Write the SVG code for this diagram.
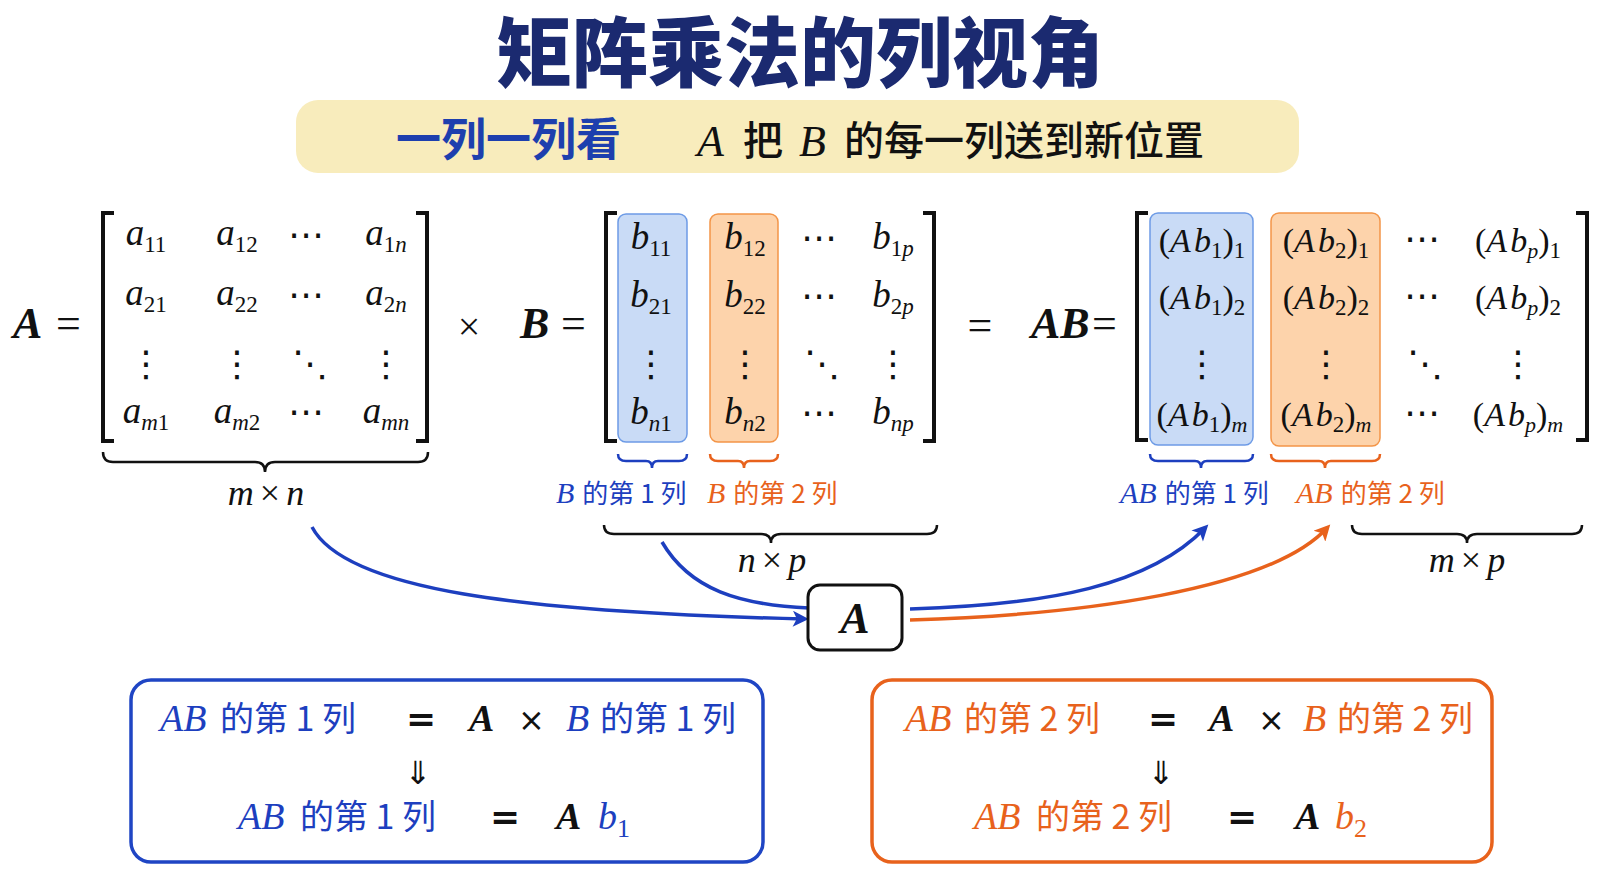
<svg xmlns="http://www.w3.org/2000/svg" width="1600" height="878" viewBox="0 0 1600 878">
<style>
.m{font-family:"Liberation Serif","DejaVu Serif",serif;font-style:italic;fill:#111}
.up{font-style:normal}
.it{font-style:italic}
.cjk{font-family:"Noto Sans CJK SC","Noto Sans",sans-serif}
.sym{font-family:"DejaVu Sans",sans-serif;fill:#111}
.e{font-size:37px}
.e2{font-size:34px}
.sub{font-size:23px;font-style:normal}
.dots{font-family:"DejaVu Sans",sans-serif;font-size:36px;fill:#111;text-anchor:middle}
.brk{fill:none;stroke:#111;stroke-width:4}
.brace{fill:none;stroke:#111;stroke-width:2.5}
.bb{fill:none;stroke:#1d3fbf;stroke-width:2.5}
.ob{fill:none;stroke:#e8621c;stroke-width:2.5}
.blue{fill:#1d3fbf}
.orange{fill:#e8621c}
.hb{fill:#c9dbf6;stroke:#6d9be6;stroke-width:1.5}
.ho{fill:#fdd3ab;stroke:#f39548;stroke-width:1.5}
.lbl{font-size:26px}
.lm{font-size:30px}
.big{font-size:44px;font-weight:bold}
.bx{font-size:38px}
.bc{font-size:34px}
.arr{fill:none;stroke-width:3.5}
</style>
<defs>
<marker id="ahB" viewBox="0 0 10 10" refX="7" refY="5" markerWidth="20" markerHeight="16" markerUnits="userSpaceOnUse" orient="auto"><path d="M0,0 L10,5 L0,10 L2.5,5 z" fill="#1d3fbf"/></marker>
<marker id="ahO" viewBox="0 0 10 10" refX="7" refY="5" markerWidth="20" markerHeight="16" markerUnits="userSpaceOnUse" orient="auto"><path d="M0,0 L10,5 L0,10 L2.5,5 z" fill="#e8621c"/></marker>
</defs>
<rect width="1600" height="878" fill="#ffffff"/>

<g id="title">
<text x="800" y="81" text-anchor="middle" class="cjk" font-size="76" font-weight="900" fill="#1b2a70">矩阵乘法的列视角</text>
</g>

<g id="banner">
<rect x="296" y="100" width="1003" height="73" rx="22" fill="#f8ecbc"/>
<text x="396" y="156" class="cjk" font-size="45" font-weight="bold" fill="#1d3fae">一列一列看</text>
<text x="697" y="156" class="m" font-size="44">A</text>
<text x="743" y="155" class="cjk" font-size="40" font-weight="500" fill="#111">把</text>
<text x="799" y="156" class="m" font-size="44">B</text>
<text x="844" y="155" class="cjk" font-size="40" font-weight="500" fill="#111">的每一列送到新位置</text>
</g>

<g id="matrix-A">
<text x="13" y="338" class="m big">A</text>
<text x="56" y="338" class="m up" font-size="44">=</text>
<path class="brk" d="M114,213 H103 V441 H114"/>
<path class="brk" d="M416,213 H427 V441 H416"/>
<text class="m e" x="146" y="245" text-anchor="middle">a<tspan class="sub" dy="7">11</tspan></text>
<text class="m e" x="237" y="245" text-anchor="middle">a<tspan class="sub" dy="7">12</tspan></text>
<text class="dots" x="306" y="247">⋯</text>
<text class="m e" x="386" y="245" text-anchor="middle">a<tspan class="sub" dy="7">1<tspan class="it">n</tspan></tspan></text>
<text class="m e" x="146" y="305" text-anchor="middle">a<tspan class="sub" dy="7">21</tspan></text>
<text class="m e" x="237" y="305" text-anchor="middle">a<tspan class="sub" dy="7">22</tspan></text>
<text class="dots" x="306" y="307">⋯</text>
<text class="m e" x="386" y="305" text-anchor="middle">a<tspan class="sub" dy="7">2<tspan class="it">n</tspan></tspan></text>
<text class="dots" x="146" y="376">⋮</text>
<text class="dots" x="237" y="376">⋮</text>
<text class="dots" x="310" y="376">⋱</text>
<text class="dots" x="386" y="376">⋮</text>
<text class="m e" x="146" y="423" text-anchor="middle">a<tspan class="sub" dy="7"><tspan class="it">m</tspan>1</tspan></text>
<text class="m e" x="237" y="423" text-anchor="middle">a<tspan class="sub" dy="7"><tspan class="it">m</tspan>2</tspan></text>
<text class="dots" x="306" y="424">⋯</text>
<text class="m e" x="386" y="423" text-anchor="middle">a<tspan class="sub it" dy="7" style="font-style:italic">mn</tspan></text>
<path class="brace" d="M103,452 Q103,462 113,462 L255,462 Q265,462 265,472 Q265,462 275,462 L418,462 Q428,462 428,452"/>
<text class="m" x="266" y="505" text-anchor="middle" font-size="36">m<tspan class="up" dx="6">×</tspan><tspan dx="6">n</tspan></text>
</g>

<g id="times">
<text x="469" y="340" text-anchor="middle" class="m up" font-size="40">×</text>
</g>

<g id="matrix-B">
<text x="520" y="338" class="m big">B</text>
<text x="561" y="338" class="m up" font-size="44">=</text>
<path class="brk" d="M617,213 H606 V441 H617"/>
<path class="brk" d="M923,213 H934 V441 H923"/>
<rect class="hb" x="618" y="214" width="69" height="228" rx="8"/>
<rect class="ho" x="710" y="214" width="68" height="228" rx="8"/>
<text class="m e" x="651" y="249" text-anchor="middle">b<tspan class="sub" dy="7">11</tspan></text>
<text class="m e" x="745" y="249" text-anchor="middle">b<tspan class="sub" dy="7">12</tspan></text>
<text class="dots" x="819" y="250">⋯</text>
<text class="m e" x="893" y="249" text-anchor="middle">b<tspan class="sub" dy="7">1<tspan class="it">p</tspan></tspan></text>
<text class="m e" x="651" y="307" text-anchor="middle">b<tspan class="sub" dy="7">21</tspan></text>
<text class="m e" x="745" y="307" text-anchor="middle">b<tspan class="sub" dy="7">22</tspan></text>
<text class="dots" x="819" y="308">⋯</text>
<text class="m e" x="893" y="307" text-anchor="middle">b<tspan class="sub" dy="7">2<tspan class="it">p</tspan></tspan></text>
<text class="dots" x="651" y="376">⋮</text>
<text class="dots" x="745" y="376">⋮</text>
<text class="dots" x="822" y="376">⋱</text>
<text class="dots" x="893" y="376">⋮</text>
<text class="m e" x="651" y="424" text-anchor="middle">b<tspan class="sub" dy="7"><tspan class="it">n</tspan>1</tspan></text>
<text class="m e" x="745" y="424" text-anchor="middle">b<tspan class="sub" dy="7"><tspan class="it">n</tspan>2</tspan></text>
<text class="dots" x="819" y="425">⋯</text>
<text class="m e" x="893" y="424" text-anchor="middle">b<tspan class="sub" dy="7" style="font-style:italic">np</tspan></text>
<path class="bb" d="M618,454 Q618,461 626,461 L646,461 Q652,461 652,468 Q652,461 658,461 L679,461 Q687,461 687,454"/>
<path class="ob" d="M710,454 Q710,461 718,461 L738,461 Q744,461 744,468 Q744,461 750,461 L770,461 Q778,461 778,454"/>
<text x="556" y="503" class="blue"><tspan class="m lm" style="fill:#1d3fbf">B</tspan><tspan class="cjk lbl" dx="8">的第 1 列</tspan></text>
<text x="707" y="503" class="orange"><tspan class="m lm" style="fill:#e8621c">B</tspan><tspan class="cjk lbl" dx="8">的第 2 列</tspan></text>
<path class="brace" d="M604,525 Q604,534 614,534 L761,534 Q771,534 771,543 Q771,534 781,534 L927,534 Q937,534 937,525"/>
<text class="m" x="772" y="572" text-anchor="middle" font-size="36">n<tspan class="up" dx="6">×</tspan><tspan dx="6">p</tspan></text>
</g>

<g id="equals">
<text x="980" y="340" text-anchor="middle" class="m up" font-size="44">=</text>
</g>

<g id="matrix-AB">
<text x="1031" y="338" class="m big">AB</text>
<text x="1092" y="338" class="m up" font-size="44">=</text>
<path class="brk" d="M1148,213 H1137 V440 H1148"/>
<path class="brk" d="M1576,213 H1587 V440 H1576"/>
<rect class="hb" x="1150" y="213" width="103" height="232" rx="8"/>
<rect class="ho" x="1271" y="213" width="109" height="233" rx="8"/>
<text class="m e2" x="1202" y="252" text-anchor="middle"><tspan class="up">(</tspan>A<tspan dx="3">b</tspan><tspan class="sub" font-size="22" dy="6">1</tspan><tspan class="up" dy="-6">)</tspan><tspan class="sub" font-size="22" dy="6">1</tspan></text>
<text class="m e2" x="1326" y="252" text-anchor="middle"><tspan class="up">(</tspan>A<tspan dx="3">b</tspan><tspan class="sub" font-size="22" dy="6">2</tspan><tspan class="up" dy="-6">)</tspan><tspan class="sub" font-size="22" dy="6">1</tspan></text>
<text class="dots" x="1422" y="251">⋯</text>
<text class="m e2" x="1518" y="252" text-anchor="middle"><tspan class="up">(</tspan>A<tspan dx="3">b</tspan><tspan font-size="22" dy="6">p</tspan><tspan class="up" dy="-6">)</tspan><tspan class="sub" font-size="22" dy="6">1</tspan></text>
<text class="m e2" x="1202" y="309" text-anchor="middle"><tspan class="up">(</tspan>A<tspan dx="3">b</tspan><tspan class="sub" font-size="22" dy="6">1</tspan><tspan class="up" dy="-6">)</tspan><tspan class="sub" font-size="22" dy="6">2</tspan></text>
<text class="m e2" x="1326" y="309" text-anchor="middle"><tspan class="up">(</tspan>A<tspan dx="3">b</tspan><tspan class="sub" font-size="22" dy="6">2</tspan><tspan class="up" dy="-6">)</tspan><tspan class="sub" font-size="22" dy="6">2</tspan></text>
<text class="dots" x="1422" y="308">⋯</text>
<text class="m e2" x="1518" y="309" text-anchor="middle"><tspan class="up">(</tspan>A<tspan dx="3">b</tspan><tspan font-size="22" dy="6">p</tspan><tspan class="up" dy="-6">)</tspan><tspan class="sub" font-size="22" dy="6">2</tspan></text>
<text class="dots" x="1202" y="376">⋮</text>
<text class="dots" x="1326" y="376">⋮</text>
<text class="dots" x="1425" y="376">⋱</text>
<text class="dots" x="1518" y="376">⋮</text>
<text class="m e2" x="1202" y="426" text-anchor="middle"><tspan class="up">(</tspan>A<tspan dx="3">b</tspan><tspan class="sub" font-size="22" dy="6">1</tspan><tspan class="up" dy="-6">)</tspan><tspan font-size="22" dy="6">m</tspan></text>
<text class="m e2" x="1326" y="426" text-anchor="middle"><tspan class="up">(</tspan>A<tspan dx="3">b</tspan><tspan class="sub" font-size="22" dy="6">2</tspan><tspan class="up" dy="-6">)</tspan><tspan font-size="22" dy="6">m</tspan></text>
<text class="dots" x="1422" y="425">⋯</text>
<text class="m e2" x="1518" y="426" text-anchor="middle"><tspan class="up">(</tspan>A<tspan dx="3">b</tspan><tspan font-size="22" dy="6">p</tspan><tspan class="up" dy="-6">)</tspan><tspan font-size="22" dy="6">m</tspan></text>
<path class="bb" d="M1150,454 Q1150,461 1158,461 L1195,461 Q1201,461 1201,468 Q1201,461 1207,461 L1245,461 Q1253,461 1253,454"/>
<path class="ob" d="M1271,454 Q1271,461 1279,461 L1319,461 Q1325,461 1325,468 Q1325,461 1331,461 L1372,461 Q1380,461 1380,454"/>
<text x="1120" y="503" class="blue"><tspan class="m lm" style="fill:#1d3fbf">AB</tspan><tspan class="cjk lbl" dx="8">的第 1 列</tspan></text>
<text x="1296" y="503" class="orange"><tspan class="m lm" style="fill:#e8621c">AB</tspan><tspan class="cjk lbl" dx="8">的第 2 列</tspan></text>
<path class="brace" d="M1352,525 Q1352,534 1362,534 L1457,534 Q1467,534 1467,543 Q1467,534 1477,534 L1572,534 Q1582,534 1582,525"/>
<text class="m" x="1467" y="572" text-anchor="middle" font-size="36">m<tspan class="up" dx="6">×</tspan><tspan dx="6">p</tspan></text>
</g>

<g id="connectors">
<path class="arr" stroke="#1d3fbf" d="M312,527 C345,590 520,612 804,619" marker-end="url(#ahB)"/>
<path class="arr" stroke="#1d3fbf" d="M662,542 C690,590 740,605 809,608"/>
<path class="arr" stroke="#1d3fbf" d="M910,609 C1050,605 1150,585 1205,528" marker-end="url(#ahB)"/>
<path class="arr" stroke="#e8621c" d="M910,620 C1080,615 1270,590 1327,528" marker-end="url(#ahO)"/>
</g>

<g id="node-A">
<rect x="808" y="585" width="94" height="65" rx="12" fill="#ffffff" stroke="#111" stroke-width="3"/>
<text x="855" y="633" text-anchor="middle" class="m big">A</text>
</g>

<g id="box-col1">
<rect x="131" y="680" width="632" height="182" rx="20" fill="#ffffff" stroke="#1f45c4" stroke-width="3.5"/>
<text x="160" y="731" class="m bx" style="fill:#1d3fbf">AB</text>
<text x="220" y="731" class="cjk bc blue">的第 1 列</text>
<text x="406" y="731" class="sym" font-size="36" font-weight="bold">=</text>
<text x="469" y="731" class="m bx" font-weight="bold">A</text>
<text x="518" y="731" class="sym" font-size="32">×</text>
<text x="566" y="731" class="m bx" style="fill:#1d3fbf">B</text>
<text x="600" y="731" class="cjk bc blue">的第 1 列</text>
<text x="418" y="784" text-anchor="middle" class="sym" font-size="32">⇓</text>
<text x="238" y="829" class="m bx" style="fill:#1d3fbf">AB</text>
<text x="300" y="829" class="cjk bc blue">的第 1 列</text>
<text x="490" y="829" class="sym" font-size="36" font-weight="bold">=</text>
<text x="556" y="829" class="m bx" font-weight="bold">A</text>
<text x="598" y="829" class="m bx" style="fill:#1d3fbf">b<tspan class="up" font-size="26" dy="8">1</tspan></text>
</g>

<g id="box-col2">
<rect x="872" y="680" width="620" height="182" rx="20" fill="#ffffff" stroke="#e8621c" stroke-width="3.5"/>
<text x="905" y="731" class="m bx" style="fill:#e8621c">AB</text>
<text x="964" y="731" class="cjk bc orange">的第 2 列</text>
<text x="1148" y="731" class="sym" font-size="36" font-weight="bold">=</text>
<text x="1209" y="731" class="m bx" font-weight="bold">A</text>
<text x="1258" y="731" class="sym" font-size="32">×</text>
<text x="1303" y="731" class="m bx" style="fill:#e8621c">B</text>
<text x="1337" y="731" class="cjk bc orange">的第 2 列</text>
<text x="1161" y="784" text-anchor="middle" class="sym" font-size="32">⇓</text>
<text x="974" y="829" class="m bx" style="fill:#e8621c">AB</text>
<text x="1036" y="829" class="cjk bc orange">的第 2 列</text>
<text x="1227" y="829" class="sym" font-size="36" font-weight="bold">=</text>
<text x="1295" y="829" class="m bx" font-weight="bold">A</text>
<text x="1335" y="829" class="m bx" style="fill:#e8621c">b<tspan class="up" font-size="26" dy="8">2</tspan></text>
</g>
</svg>
